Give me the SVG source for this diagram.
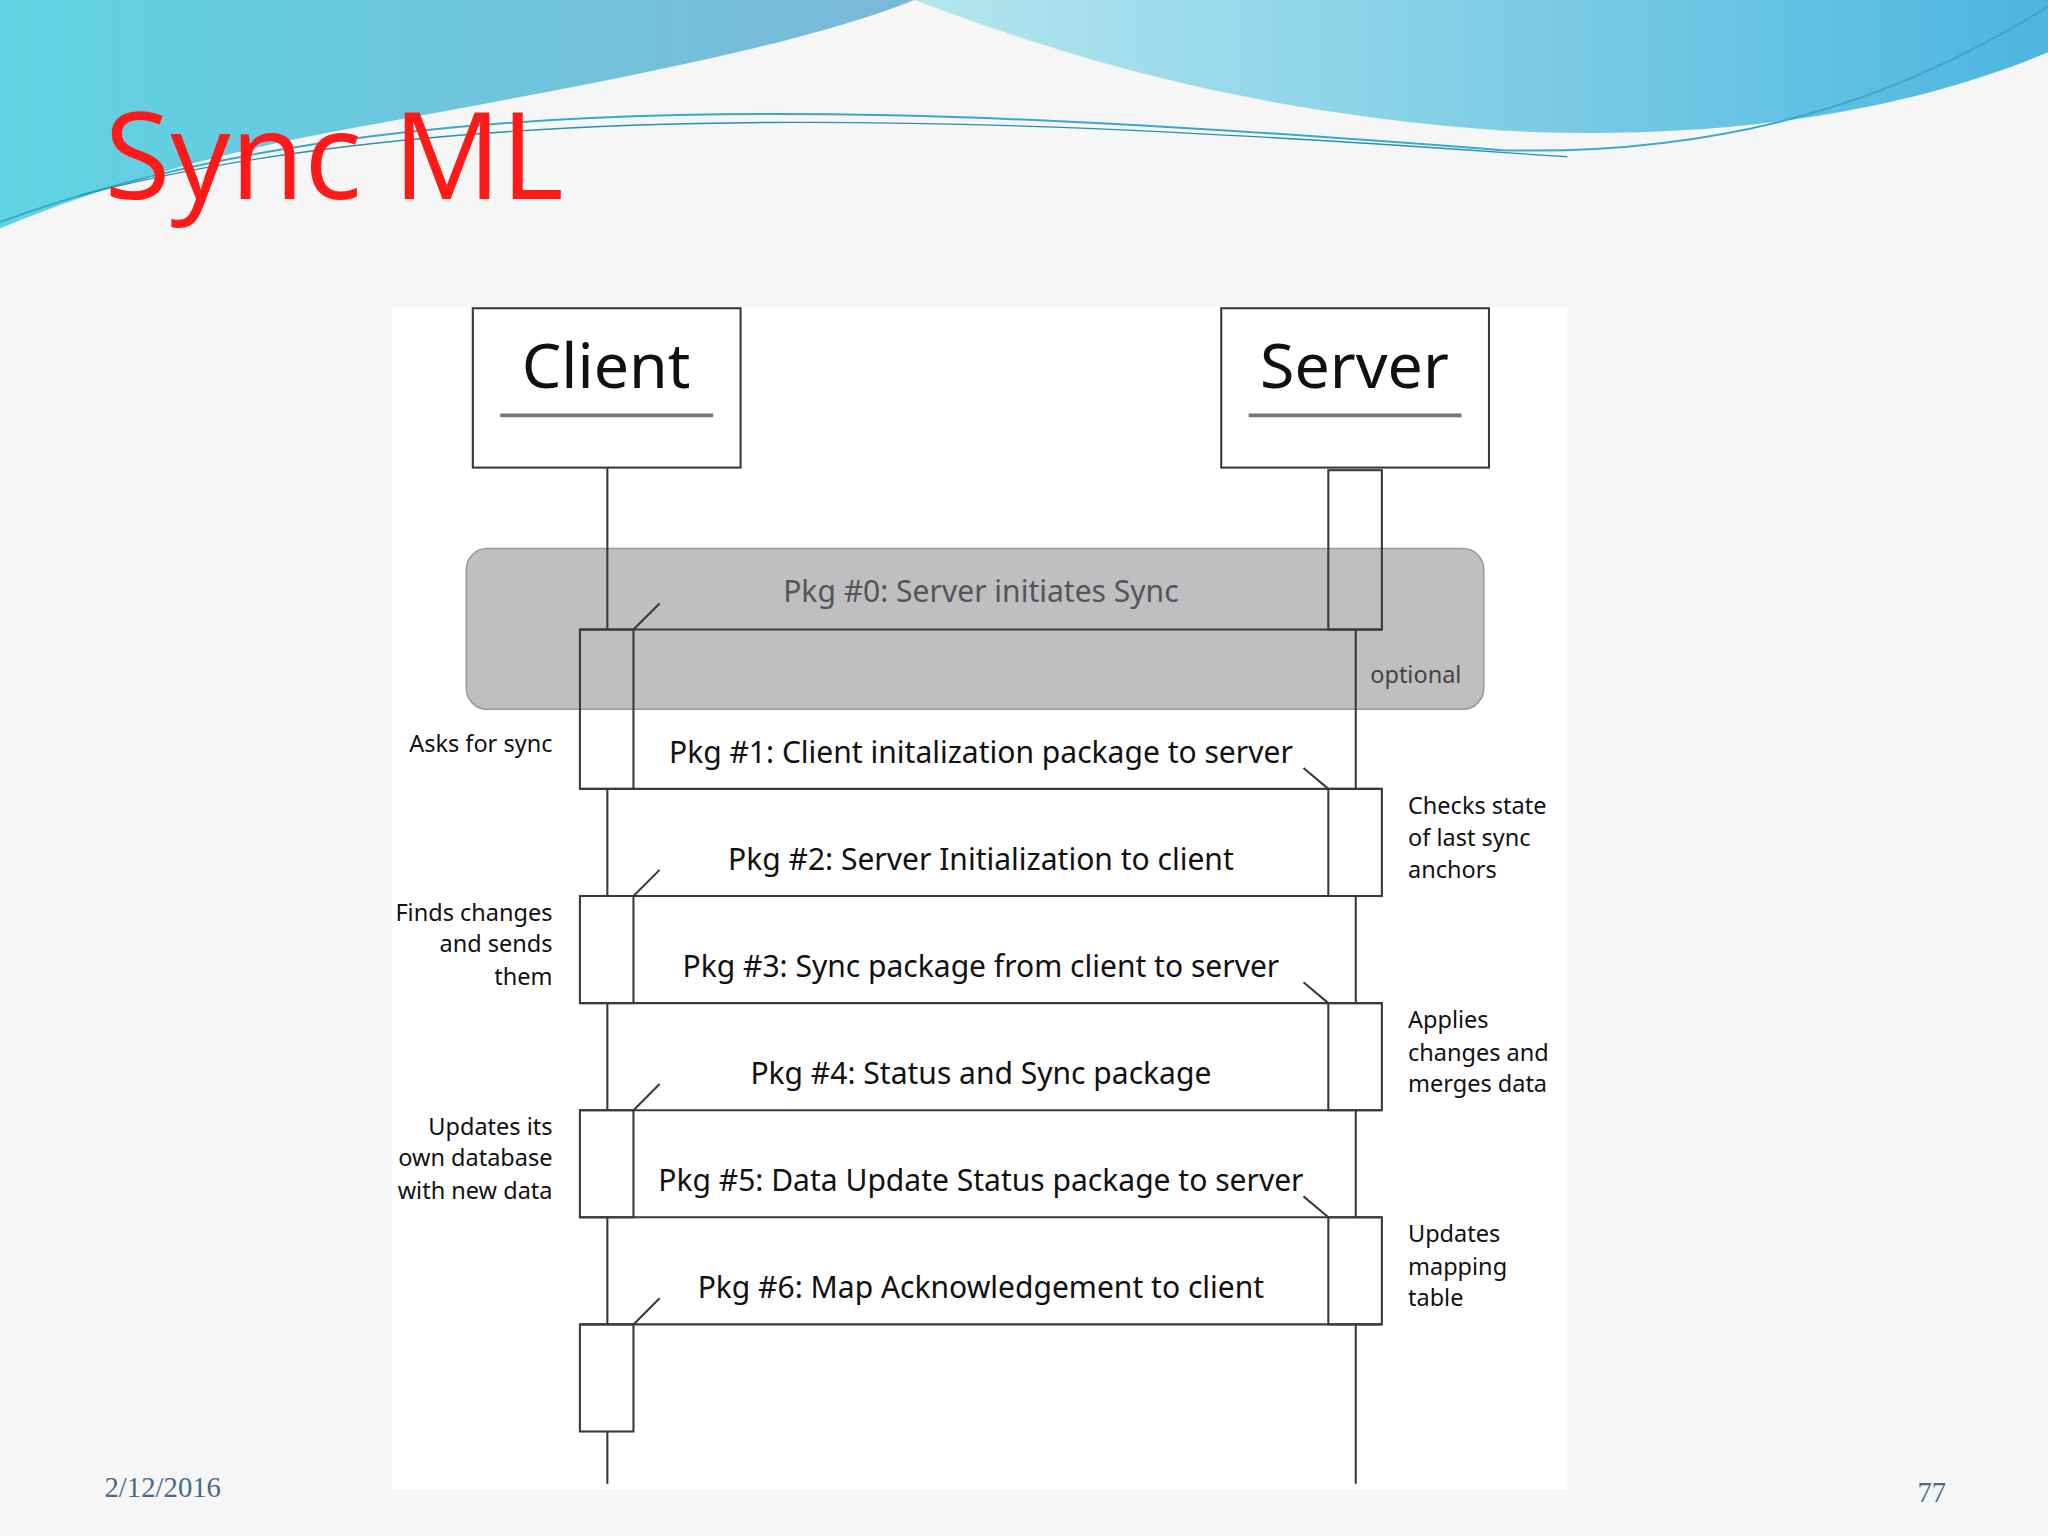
<svg xmlns="http://www.w3.org/2000/svg" width="2048" height="1536" viewBox="0 0 2048 1536">
<defs>
<linearGradient id="g1" x1="0" y1="0" x2="1" y2="0"><stop offset="0" stop-color="#5fd3e3"/><stop offset="1" stop-color="#7bb8d8"/></linearGradient>
<linearGradient id="g2" x1="0" y1="0" x2="1" y2="0"><stop offset="0" stop-color="#b5e6ee"/><stop offset="1" stop-color="#4cb6df"/></linearGradient>
</defs>
<style>
.ln{stroke:#3a3a3a;stroke-width:1.6;fill:none}
.box{fill:#fff;stroke:#3a3a3a;stroke-width:1.6}
.msg{font-family:"Noto Sans","Liberation Sans",sans-serif;font-size:23px;fill:#111;text-anchor:middle}
.nt{font-family:"Noto Sans","Liberation Sans",sans-serif;font-size:18px;fill:#111}
.r{text-anchor:end}
</style>
<rect width="2048" height="1536" fill="#f6f6f6"/>
<g transform="scale(1.30612)">
<path d="M0,0 H700 C600,40 420,70 260,100 C150,120 60,150 0,175 Z" fill="url(#g1)"/>
<path d="M700,0 H1568 V40 C1450,90 1300,108 1150,100 C950,85 820,45 700,0 Z" fill="url(#g2)"/>
<path d="M0,170 C300,60 700,80 1150,115 C1350,120 1480,60 1568,5" fill="none" stroke="#3aa9c9" stroke-width="1.5"/>
<path d="M60,150 C400,60 900,100 1200,120" fill="none" stroke="#2b8fb0" stroke-width="1"/>
<text x="80" y="152" font-family="Open Sans,Liberation Sans,sans-serif" font-size="92" fill="#ff1a1a">Sync ML</text>
<rect x="300" y="235" width="900" height="905" fill="#fff"/>

<g id="client"><rect class="box" x="362" y="236" width="205" height="122"/><text x="464" y="297" font-family="Noto Sans,Liberation Sans,sans-serif" font-size="48" text-anchor="middle" fill="#111">Client</text><line x1="383" y1="318" x2="546" y2="318" stroke="#777" stroke-width="3"/></g>
<g id="server"><rect class="box" x="935" y="236" width="205" height="122"/><text x="1037" y="297" font-family="Noto Sans,Liberation Sans,sans-serif" font-size="48" text-anchor="middle" fill="#111">Server</text><line x1="956" y1="318" x2="1119" y2="318" stroke="#777" stroke-width="3"/></g>

<g id="pkg0band"><rect x="357" y="420" width="779" height="123" rx="16" fill="#bfbec1" stroke="#9a9a9a" stroke-width="1.2"/>
<text x="751" y="461" class="msg" fill="#555" style="fill:#555">Pkg #0: Server initiates Sync</text>
<text x="1084" y="523" class="nt" style="fill:#444;text-anchor:middle">optional</text></g>

<g id="connectors">
<line class="ln" x1="465" y1="358" x2="465" y2="482"/>
<line class="ln" x1="465" y1="604" x2="465" y2="686"/>
<line class="ln" x1="465" y1="768" x2="465" y2="850"/>
<line class="ln" x1="465" y1="932" x2="465" y2="1014"/>
<line class="ln" x1="465" y1="1096" x2="465" y2="1136"/>
<line class="ln" x1="1038" y1="482" x2="1038" y2="604"/>
<line class="ln" x1="1038" y1="686" x2="1038" y2="768"/>
<line class="ln" x1="1038" y1="850" x2="1038" y2="932"/>
<line class="ln" x1="1038" y1="1014" x2="1038" y2="1136"/>
<rect class="ln" x="1017" y="360" width="41" height="122"/>
<rect class="ln" x="444" y="482" width="41" height="122"/>
<rect class="ln" x="1017" y="604" width="41" height="82"/>
<rect class="ln" x="444" y="686" width="41" height="82"/>
<rect class="ln" x="1017" y="768" width="41" height="82"/>
<rect class="ln" x="444" y="850" width="41" height="82"/>
<rect class="ln" x="1017" y="932" width="41" height="82"/>
<rect class="ln" x="444" y="1014" width="41" height="82"/>
<line class="ln" x1="444" y1="482" x2="1058" y2="482"/>
<line class="ln" x1="444" y1="604" x2="1058" y2="604"/>
<line class="ln" x1="444" y1="686" x2="1058" y2="686"/>
<line class="ln" x1="444" y1="768" x2="1058" y2="768"/>
<line class="ln" x1="444" y1="850" x2="1058" y2="850"/>
<line class="ln" x1="444" y1="932" x2="1058" y2="932"/>
<line class="ln" x1="444" y1="1014" x2="1058" y2="1014"/>
<path class="ln" d="M485,482 L505,462 M485,686 L505,666 M485,850 L505,830 M485,1014 L505,994"/>
<path class="ln" d="M998,588 L1017,604 M998,752 L1017,768 M998,916 L1017,932"/>
</g>

<g id="msgs">
<text class="msg" x="751" y="584">Pkg #1: Client initalization package to server</text>
<text class="msg" x="751" y="666">Pkg #2: Server Initialization to client</text>
<text class="msg" x="751" y="748">Pkg #3: Sync package from client to server</text>
<text class="msg" x="751" y="830">Pkg #4: Status and Sync package</text>
<text class="msg" x="751" y="912">Pkg #5: Data Update Status package to server</text>
<text class="msg" x="751" y="994">Pkg #6: Map Acknowledgement to client</text>
</g>
<g id="notes">
<text class="nt r" x="423" y="576">Asks for sync</text>
<text class="nt r" x="423" y="705">Finds changes</text><text class="nt r" x="423" y="729">and sends</text><text class="nt r" x="423" y="754">them</text>
<text class="nt r" x="423" y="869">Updates its</text><text class="nt r" x="423" y="893">own database</text><text class="nt r" x="423" y="918">with new data</text>
<text class="nt" x="1078" y="623">Checks state</text><text class="nt" x="1078" y="648">of last sync</text><text class="nt" x="1078" y="672">anchors</text>
<text class="nt" x="1078" y="787">Applies</text><text class="nt" x="1078" y="812">changes and</text><text class="nt" x="1078" y="836">merges data</text>
<text class="nt" x="1078" y="951">Updates</text><text class="nt" x="1078" y="976">mapping</text><text class="nt" x="1078" y="1000">table</text>
</g>
<text x="80" y="1146" font-family="Liberation Serif,serif" font-size="22" fill="#4a6a8a">2/12/2016</text>
<text x="1490" y="1150" font-family="Liberation Serif,serif" font-size="22" fill="#4a6a8a" text-anchor="end">77</text>
</g>
</svg>
